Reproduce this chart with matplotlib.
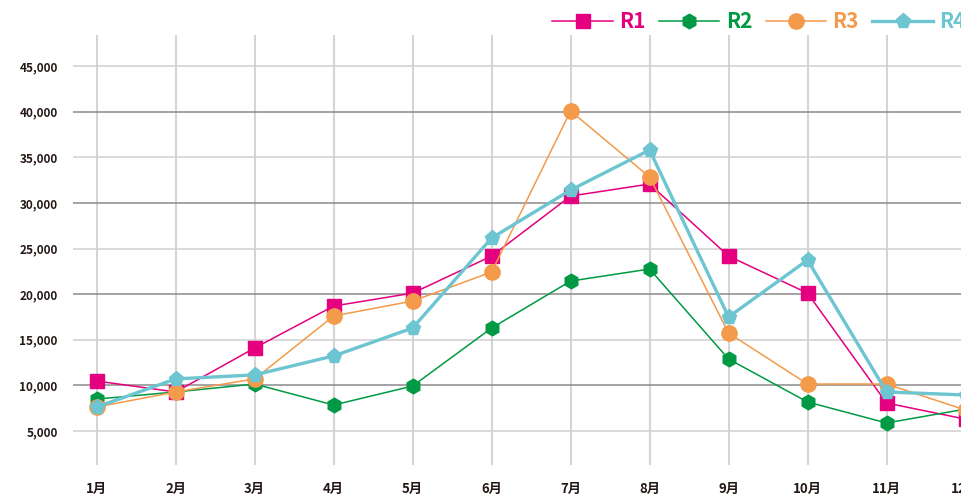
import matplotlib
matplotlib.use("Agg")
import matplotlib.pyplot as plt
from matplotlib.ticker import FuncFormatter

plt.rcParams["font.family"] = ["Noto Sans CJK JP", "DejaVu Sans"]

months = ["1月", "2月", "3月", "4月", "5月", "6月", "7月", "8月", "9月", "10月", "11月", "12月"]

r1 = [10480, 9280, 14100, 18700, 20120, 24180, 30760, 32080, 24180, 20120, 8070, 6300]
r2 = [8500, 9280, 10150, 7850, 9930, 16290, 21440, 22760, 12890, 8180, 5880, 7400]
r3 = [7630, 9280, 10710, 17610, 19250, 22430, 40090, 32850, 15740, 10150, 10150, 7300]
r4 = [7630, 10710, 11150, 13230, 16290, 26160, 31420, 35810, 17500, 23750, 9280, 8950]

series = [
    ("R1", r1, "#e4007f", "s", 10, 1.1),
    ("R2", r2, "#009a44", "h", 10.5, 1.1),
    ("R3", r3, "#f39a4b", "o", 11, 1.1),
    ("R4", r4, "#6cc5d1", "p", 11, 2.4),
]

fig = plt.figure(figsize=(9.61, 4.95), dpi=100)
# the plot area runs past the right edge of the canvas
ax = fig.add_axes([73 / 961, 30 / 495, 932 / 961, 430 / 495])

x = list(range(len(months)))
handles = []
for name, vals, color, marker, ms, lw in series:
    (h,) = ax.plot(x, vals, color=color, lw=lw, marker=marker, ms=ms,
                   mec=color, mfc=color, label=name, clip_on=True)
    handles.append(h)

ax.set_xlim(-0.3, 11.5)
ax.set_ylim(1272, 48420)
ax.set_xticks(x)
ax.set_xticklabels(months)
ax.set_yticks(range(5000, 50000, 5000))
ax.yaxis.set_major_formatter(FuncFormatter(lambda v, _: f"{int(v):,}"))

for s in ax.spines.values():
    s.set_visible(False)

ax.tick_params(axis="x", length=0, pad=12, labelsize=9.5, labelcolor="#231815")
ax.tick_params(axis="y", length=0, pad=11, labelsize=8.5, labelcolor="#231815")
for lab in ax.get_xticklabels() + ax.get_yticklabels():
    lab.set_fontweight("bold")

# grid: light verticals, darker line every 10,000
for xi in x:
    ax.axvline(xi, color="#d5d5d5", lw=1.5, zorder=0)
for yv in range(5000, 50000, 5000):
    c = "#8a8a8a" if yv % 10000 == 0 else "#d0d0d0"
    ax.axhline(yv, color=c, lw=1.1, zorder=0)

leg = fig.legend(handles=handles, loc="center left", bbox_to_anchor=(544 / 961, 1 - 22 / 495),
                 ncol=4, frameon=False, fontsize=15, handlelength=2.9,
                 handletextpad=0.3, columnspacing=0.65, borderaxespad=0)
for txt, (_, _, color, _, _, _) in zip(leg.get_texts(), series):
    txt.set_color(color)
    txt.set_fontweight("bold")

fig.savefig("out.png", dpi=100)
